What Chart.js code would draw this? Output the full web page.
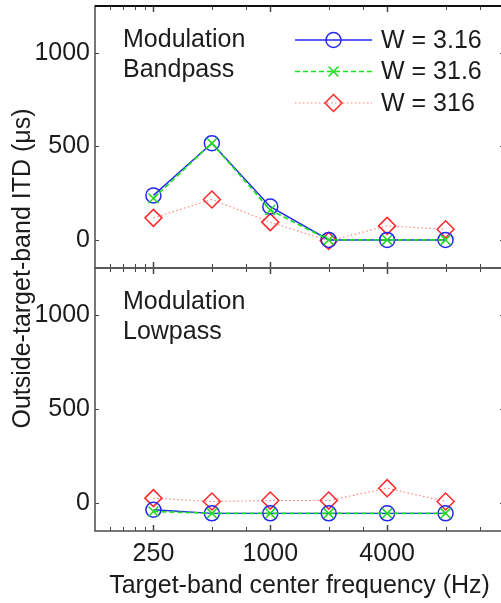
<!DOCTYPE html>
<html>
<head>
<meta charset="utf-8">
<script src="https://cdn.jsdelivr.net/npm/chart.js@4/dist/chart.umd.min.js"></script>
<style>
  html, body { margin: 0; padding: 0; background: #fff; width: 501px; height: 603px; overflow: hidden; }
  #wrap { position: relative; width: 501px; height: 603px; overflow: hidden; }
  #wrap canvas { position: absolute; left: 0; top: 0; }
</style>
</head>
<body>
<div id="wrap">
  <canvas id="panelTop" width="505" height="603"></canvas>
  <canvas id="panelBottom" width="505" height="603"></canvas>
</div>
<script>
// Target-band center frequencies (Hz)
const FREQ_HZ = [250, 500, 1000, 2000, 4000, 8000];
const SERIES_NAMES = ['W = 3.16', 'W = 31.6', 'W = 316'];

// Outside-target-band ITD (µs), modulation bandpass condition
const BANDPASS_W3 = [238, 517, 178, 0, 0, 0];
const BANDPASS_W31 = [222, 517, 160, 0, 0, 0];
const BANDPASS_W316 = [118, 216, 95, -5, 75, 57];

// Outside-target-band ITD (µs), modulation lowpass condition
const LOWPASS_W3 = [-37, -56, -56, -56, -56, -56];
const LOWPASS_W31 = [-46, -56, -56, -56, -56, -56];
const LOWPASS_W316 = [25, 7, 12, 12, 78, 7];

// Axis ticks and ranges
const X_LABEL_TICKS = [250, 1000, 4000];
const X_MINOR_TICKS = [150, 175, 200, 225, 500, 750, 2000, 3000, 8000, 12000];
const Y_TICKS = [0, 500, 1000];
const X_RANGE = [125, 16000];
const Y_RANGE = [-150, 1250];

const FONT_FAMILY = "'Liberation Sans', Arial, Helvetica, sans-serif";
const FONT = { family: FONT_FAMILY, size: 25, lineHeight: 1.2 };
const TEXT_COLOR = '#1c1c1c';

const SERIES_STYLE = [
  { line: 'rgb(35,40,240)', point: 'rgb(35,40,240)', dash: [], width: 1.4, shape: 'circle', radius: 7.5, order: 1 },
  { line: 'rgb(30,225,30)', point: 'rgb(30,215,30)', dash: [5, 3], width: 1.7, shape: 'crossRot', radius: 7, order: 0 },
  { line: 'rgba(255,90,90,0.8)', point: 'rgb(255,40,40)', dash: [1.5, 2.5], width: 1.1, shape: 'rectRot', radius: 8.5, order: 2 }
];

function buildDatasets(seriesValues) {
  return seriesValues.map((values, i) => {
    const s = SERIES_STYLE[i];
    return {
      label: SERIES_NAMES[i],
      data: FREQ_HZ.map((f, k) => ({ x: f, y: values[k] })),
      borderColor: s.line,
      borderWidth: s.width,
      borderDash: s.dash,
      pointStyle: s.shape,
      pointRadius: s.radius,
      pointBorderColor: s.point,
      pointBackgroundColor: 'rgba(0,0,0,0)',
      pointBorderWidth: 1.5,
      fill: false,
      tension: 0,
      order: s.order,
      clip: false
    };
  });
}

// Frame around each panel with inward tick marks on all four sides
const panelFrame = {
  id: 'panelFrame',
  afterDraw(chart, args, opts) {
    const { ctx, chartArea: a } = chart;
    const xs = chart.scales.x, ys = chart.scales.y;
    ctx.save();
    ctx.strokeStyle = '#444';
    ctx.lineWidth = 1;
    const seg = (x1, y1, x2, y2) => { ctx.beginPath(); ctx.moveTo(x1, y1); ctx.lineTo(x2, y2); ctx.stroke(); };
    X_MINOR_TICKS.forEach(v => {
      const px = Math.round(xs.getPixelForValue(v)) + 0.5;
      seg(px, a.bottom, px, a.bottom - 4);
      seg(px, a.top, px, a.top + 4);
    });
    ctx.lineWidth = 1.5;
    X_LABEL_TICKS.forEach(v => {
      const px = Math.round(xs.getPixelForValue(v)) + 0.5;
      seg(px, a.bottom, px, a.bottom - 6);
      seg(px, a.top, px, a.top + 6);
    });
    ctx.lineWidth = 1;
    Y_TICKS.forEach(v => {
      const py = Math.round(ys.getPixelForValue(v)) + 0.5;
      seg(a.left, py, a.left + 4, py);
      seg(a.right, py, a.right - 4, py);
    });
    ctx.strokeStyle = '#555';
    ctx.lineWidth = 1.6;
    ctx.strokeRect(a.left, a.top, a.right - a.left, a.bottom - a.top);
    if (opts.darkTop) {
      ctx.strokeStyle = '#111';
      ctx.lineWidth = 2;
      seg(a.left, a.top, a.right, a.top);
    }
    ctx.restore();
  }
};

// Condition name written in the upper left of each panel
const panelText = {
  id: 'panelText',
  afterDraw(chart, args, opts) {
    const { ctx, chartArea: a } = chart;
    ctx.save();
    ctx.font = `${FONT.size}px ${FONT_FAMILY}`;
    ctx.fillStyle = TEXT_COLOR;
    ctx.textAlign = 'left';
    ctx.textBaseline = 'middle';
    opts.lines.forEach((t, i) => ctx.fillText(t, a.left + 28, a.top + 34 + i * 30));
    ctx.restore();
  }
};

// Line-and-marker legend in the top panel, plus the shared y-axis title
const seriesLegend = {
  id: 'seriesLegend',
  afterDraw(chart, args, opts) {
    if (!opts.show) return;
    const { ctx, chartArea: a } = chart;
    ctx.save();
    chart.data.datasets.forEach((ds, i) => {
      const y = a.top + 34 + i * 31.5;
      const x0 = a.left + 200, x1 = a.left + 277, xm = (x0 + x1) / 2;
      ctx.strokeStyle = ds.borderColor;
      ctx.lineWidth = ds.borderWidth;
      ctx.setLineDash(ds.borderDash);
      ctx.beginPath(); ctx.moveTo(x0, y); ctx.lineTo(x1, y); ctx.stroke();
      ctx.setLineDash([]);
      ctx.strokeStyle = ds.pointBorderColor;
      ctx.fillStyle = 'rgba(0,0,0,0)';
      ctx.lineWidth = ds.pointBorderWidth;
      Chart.helpers.drawPoint(ctx, { pointStyle: ds.pointStyle, radius: ds.pointRadius, rotation: 0, borderWidth: ds.pointBorderWidth }, xm, y);
      ctx.font = `${FONT.size}px ${FONT_FAMILY}`;
      ctx.fillStyle = TEXT_COLOR;
      ctx.textAlign = 'left';
      ctx.textBaseline = 'middle';
      ctx.fillText(ds.label, x1 + 9, y + 1);
    });
    // y-axis title centred over both panels
    ctx.translate(23.5, 268.5);
    ctx.rotate(-Math.PI / 2);
    ctx.font = `${FONT.size}px ${FONT_FAMILY}`;
    ctx.fillStyle = TEXT_COLOR;
    ctx.textAlign = 'center';
    ctx.textBaseline = 'middle';
    ctx.fillText('Outside-target-band ITD (\u03bcs)', 0, 0);
    ctx.restore();
  }
};

function makePanel(canvasId, seriesValues, cfg) {
  return new Chart(document.getElementById(canvasId), {
    type: 'line',
    data: { datasets: buildDatasets(seriesValues) },
    options: {
      responsive: false,
      animation: false,
      devicePixelRatio: 1,
      events: [],
      layout: { padding: cfg.padding, autoPadding: false },
      plugins: {
        legend: { display: false },
        tooltip: { enabled: false },
        panelText: { lines: cfg.lines },
        panelFrame: { darkTop: cfg.darkTop },
        seriesLegend: { show: cfg.legend }
      },
      scales: {
        x: {
          type: 'logarithmic',
          min: X_RANGE[0],
          max: X_RANGE[1],
          display: cfg.showX,
          position: 'bottom',
          afterBuildTicks: s => { s.ticks = X_LABEL_TICKS.map(v => ({ value: v })); },
          afterFit: s => {
            s.height = cfg.showX ? 72 : 0;
            s.paddingLeft = 0; s.paddingRight = 0;
          },
          grid: { display: false, drawTicks: false },
          border: { display: false },
          ticks: { autoSkip: false, maxRotation: 0, minRotation: 0, padding: 8, font: FONT, color: TEXT_COLOR, callback: v => String(v) },
          title: { display: true, text: 'Target-band center frequency (Hz)', font: FONT, color: TEXT_COLOR, padding: { top: 0, bottom: 2 } }
        },
        y: {
          type: 'linear',
          min: Y_RANGE[0],
          max: Y_RANGE[1],
          position: 'left',
          afterBuildTicks: s => { s.ticks = Y_TICKS.map(v => ({ value: v })); },
          afterFit: s => { s.width = 95; s.paddingTop = 0; s.paddingBottom = 0; },
          grid: { display: false, drawTicks: false },
          border: { display: false },
          ticks: { padding: 5, font: FONT, color: TEXT_COLOR, callback: v => String(v) }
        }
      }
    },
    plugins: [panelFrame, panelText, seriesLegend]
  });
}

makePanel('panelTop', [BANDPASS_W3, BANDPASS_W31, BANDPASS_W316], {
  padding: { top: 6, bottom: 335, left: 0, right: 1 },
  showX: false, darkTop: true, legend: true,
  lines: ['Modulation', 'Bandpass']
});

makePanel('panelBottom', [LOWPASS_W3, LOWPASS_W31, LOWPASS_W316], {
  padding: { top: 268, bottom: 0, left: 0, right: 1 },
  showX: true, darkTop: false, legend: false,
  lines: ['Modulation', 'Lowpass']
});
</script>
</body>
</html>
